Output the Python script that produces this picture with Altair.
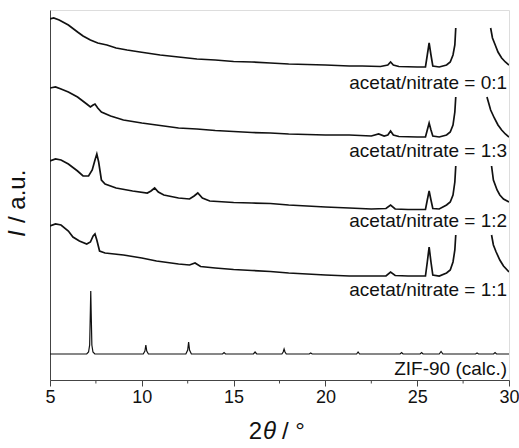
import altair as alt
import pandas as pd

# ---- experimental patterns (x = 2theta, v = intensity, a.u. incl. stacking offset) ----
# acetat/nitrate = 0:1
s01_x1 = [5.0, 5.2, 5.5, 6.0, 6.5, 6.8, 7.2, 7.6, 8.1, 8.6, 9.2, 9.9, 11, 12, 13, 14, 15, 16, 17, 18, 19, 20, 21.3, 22, 23, 23.4, 23.55, 23.7, 24, 25, 25.45, 25.55, 25.65, 25.75, 25.85, 26.2, 26.6, 26.8, 26.95, 27.05, 27.1]
s01_v1 = [361, 362, 360, 355, 348, 344, 340, 337, 335, 332, 330, 328, 325, 323, 321, 320, 318.5, 318, 317, 316, 315.5, 315, 314, 314, 313.5, 315, 318, 315, 313.5, 313, 313, 325, 337, 325, 314, 313, 315, 318, 325, 335, 352]
s01_x2 = [29.0, 29.1, 29.25, 29.4, 29.6, 29.8, 30.0]
s01_v2 = [352, 342, 335, 328, 322, 318, 315]

# acetat/nitrate = 1:3
s13_x1 = [5.0, 5.3, 5.6, 6.0, 6.5, 7.0, 7.2, 7.35, 7.45, 7.6, 7.8, 8.3, 9.0, 10, 10.8, 12, 13, 14, 15, 16, 17, 18, 19, 20, 21.3, 22.5, 22.9, 23.2, 23.4, 23.55, 23.7, 24, 25, 25.45, 25.55, 25.65, 25.75, 25.85, 26.2, 26.6, 26.8, 26.95, 27.05, 27.1]
s13_v1 = [292, 293, 291, 288, 283, 276, 273, 275, 276, 272, 268, 264, 260, 257, 255, 252, 251, 249.5, 248.5, 247.5, 247, 246, 245.5, 245, 245, 244, 246, 244, 245, 249, 245, 243.5, 243, 243, 250, 257, 250, 244, 243, 245, 248, 255, 268, 283]
s13_x2 = [28.8, 29.0, 29.2, 29.4, 29.6, 29.8, 30.0]
s13_v2 = [283, 270, 262, 255, 250, 246, 243]

# acetat/nitrate = 1:2
s12_x1 = [5.0, 5.3, 5.6, 6.0, 6.5, 6.8, 7.1, 7.3, 7.45, 7.55, 7.65, 7.8, 8.0, 8.6, 9.5, 10.3, 10.5, 10.7, 10.9, 11.2, 12, 12.6, 12.85, 13.05, 13.3, 13.7, 15, 16, 17, 18, 19, 20, 21.3, 22.5, 23.3, 23.55, 23.8, 24.5, 25.45, 25.55, 25.65, 25.75, 25.85, 26.2, 26.6, 26.8, 26.95, 27.05, 27.1]
s12_v1 = [219, 221, 220, 216, 209, 204, 204, 210, 220, 226, 218, 200, 196, 192, 189, 187, 189, 192, 188, 185, 182, 181, 184, 187, 182, 179, 177.5, 177, 176.5, 175, 174, 173, 172, 171, 171.5, 175, 171, 170.5, 170.5, 180, 189, 180, 171.5, 171, 175, 178, 185, 198, 214]
s12_x2 = [29.05, 29.15, 29.35, 29.5, 29.7, 30.0]
s12_v2 = [214, 200, 190, 185, 181, 178]

# acetat/nitrate = 1:1
s11_x1 = [5.0, 5.3, 5.6, 6.0, 6.25, 6.6, 7.0, 7.2, 7.35, 7.45, 7.55, 7.7, 8.0, 9.0, 10, 10.8, 12, 12.6, 12.9, 13.2, 14, 15, 16, 17, 18, 19, 20, 21.3, 22.5, 23.3, 23.55, 23.8, 24.5, 25.45, 25.55, 25.65, 25.75, 25.85, 26.2, 26.6, 26.8, 26.95, 27.05, 27.1]
s11_v1 = [154, 156, 155, 149, 143, 139, 136, 138, 144, 146, 140, 129, 127, 125, 122, 119, 116, 115, 117, 113.5, 112, 110.5, 109.5, 108.5, 107, 106, 105, 104, 104, 104, 108, 104.5, 104, 104, 118, 133, 118, 105, 104, 107, 110, 118, 130, 145]
s11_x2 = [29.05, 29.15, 29.3, 29.5, 29.7, 30.0]
s11_v2 = [145, 135, 128, 120, 114, 108]

# ZIF-90 (calc.)
calc_x = [5.0, 7.0, 7.1, 7.16, 7.2, 7.22, 7.24, 7.28, 7.34, 7.44,
          10.08, 10.17, 10.22, 10.27, 10.36,
          12.4, 12.5, 12.55, 12.6, 12.7,
          14.4, 14.48, 14.56, 16.08, 16.17, 16.26,
          17.63, 17.7, 17.75, 17.8, 17.87,
          19.12, 19.2, 19.28, 21.7, 21.78, 21.86,
          24.07, 24.15, 24.23, 25.16, 25.24, 25.32,
          26.2, 26.3, 26.4, 28.18, 28.26, 28.34,
          29.16, 29.24, 29.32, 30.0]
calc_v = [26, 26, 28, 35, 70, 89, 70, 35, 28, 26,
          26, 29, 35, 29, 26,
          26, 30, 38, 30, 26,
          26, 27.5, 26, 26, 28, 26,
          26, 28, 31, 28, 26,
          26, 27, 26, 26, 28, 26,
          26, 27.5, 26, 26, 27.5, 26,
          26, 28.5, 26, 26, 27, 26,
          26, 27.5, 26, 26]

labels = ["acetat/nitrate = 0:1", "acetat/nitrate = 1:3", "acetat/nitrate = 1:2",
          "acetat/nitrate = 1:1", "ZIF-90 (calc.)"]
label_x = [29.9, 29.9, 29.9, 29.9, 29.9]
label_v = [297, 229, 159, 90, 11]

x_ticks = [5, 10, 15, 20, 25, 30]
x_minor = [7.5, 12.5, 17.5, 22.5, 27.5]

rows = []
def add(name, seg, xs, vs, w):
    for i, (a, b) in enumerate(zip(xs, vs)):
        rows.append({"key": f"{name}-{seg}", "i": i, "x": a, "v": b, "w": w})

add("01", "a", s01_x1, s01_v1, "exp")
add("01", "b", s01_x2, s01_v2, "exp")
add("13", "a", s13_x1, s13_v1, "exp")
add("13", "b", s13_x2, s13_v2, "exp")
add("12", "a", s12_x1, s12_v1, "exp")
add("12", "b", s12_x2, s12_v2, "exp")
add("11", "a", s11_x1, s11_v1, "exp")
add("11", "b", s11_x2, s11_v2, "exp")
add("calc", "a", calc_x, calc_v, "calc")
df = pd.DataFrame(rows)

xscale = alt.Scale(domain=[5, 30], nice=False, zero=False)
yscale = alt.Scale(domain=[0, 370], nice=False, zero=False)

FONT = "Liberation Sans"
INK = "#111111"

exp_lines = alt.Chart(df[df.w == "exp"]).mark_line(
    color=INK, strokeWidth=1.7, clip=True
).encode(
    x=alt.X("x:Q", scale=xscale,
            axis=alt.Axis(values=x_ticks, title=None, grid=False,
                          labelFontSize=18, labelFont=FONT, tickSize=6,
                          tickColor="#444444", domainColor="#444444",
                          labelColor=INK, labelPadding=2, labelFlush=False)),
    y=alt.Y("v:Q", scale=yscale,
            axis=alt.Axis(title=None, labels=False, ticks=False, grid=False,
                          domainColor="#444444")),
    detail="key:N",
    order="i:Q",
)

calc_line = alt.Chart(df[df.w == "calc"]).mark_line(
    color=INK, strokeWidth=1.2
).encode(x=alt.X("x:Q", scale=xscale), y=alt.Y("v:Q", scale=yscale), order="i:Q")

minor = alt.Chart(pd.DataFrame({"x": x_minor})).mark_rule(
    color="#444444", strokeWidth=1
).encode(x=alt.X("x:Q", scale=xscale), y=alt.value(370), y2=alt.value(373.5))

lab_df = pd.DataFrame({"t": labels, "x": label_x, "v": label_v})
texts = alt.Chart(lab_df).mark_text(
    align="right", baseline="middle", fontSize=19, font=FONT, color=INK
).encode(x=alt.X("x:Q", scale=xscale), y=alt.Y("v:Q", scale=yscale), text="t:N")

# axis titles with mixed italic / upright parts
one = pd.DataFrame({"d": [0]})
def title_part(txt, x, y, align, italic=False, angle=0):
    kw = dict(align=align, baseline="middle", fontSize=24, font=FONT, color=INK,
              text=txt)
    if italic:
        kw["fontStyle"] = "italic"
    if angle:
        kw["angle"] = angle
    return alt.Chart(one).mark_text(**kw).encode(x=alt.value(x), y=alt.value(y))

xt_2 = title_part("2", 212, 422, "right")
xt_th = title_part("θ", 213, 422, "left", italic=True)
xt_rest = title_part("/ °", 232, 422, "left")
yt_i = title_part("I", -32, 227, "left", italic=True, angle=270)
yt_rest = title_part("/ a.u.", -32, 213, "left", angle=270)

chart = alt.layer(exp_lines, calc_line, minor, texts,
                  xt_2, xt_th, xt_rest, yt_i, yt_rest).properties(
    width=459, height=370,
    autosize=alt.AutoSizeParams(type="none"),
    padding={"left": 50, "top": 10, "right": 10, "bottom": 68},
).configure_view(stroke=None).configure(background="white")

chart.save("out.html", embed_options={"renderer": "svg", "actions": False})
